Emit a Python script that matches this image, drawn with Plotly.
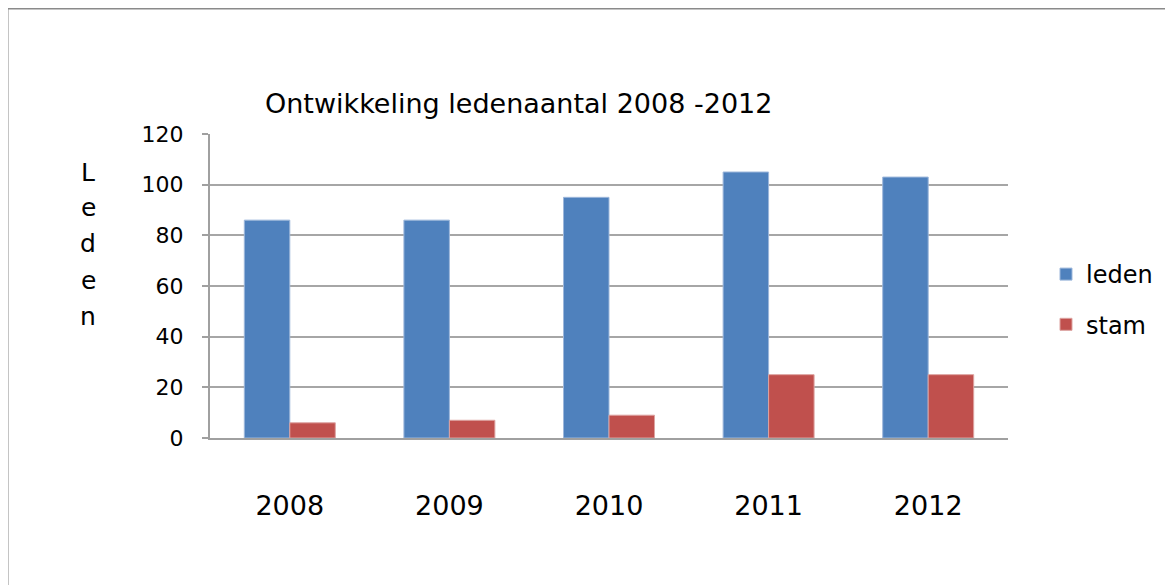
import plotly.graph_objects as go

years = ["2008", "2009", "2010", "2011", "2012"]
leden = [86, 86, 95, 105, 103]
stam = [6, 7, 9, 25, 25]
y_ticks = [0, 20, 40, 60, 80, 100, 120]
title_text = "Ontwikkeling ledenaantal 2008 -2012"
y_title_letters = ["L", "e", "d", "e", "n"]

FONT = "DejaVu Sans"

fig = go.Figure()
fig.add_trace(go.Bar(x=years, y=leden, name="leden", legendgroup="a",
                     marker=dict(color="#4F81BD", line=dict(color="#9DB7DB", width=1))))
fig.add_trace(go.Bar(x=years, y=stam, name="stam", legendgroup="b",
                     marker=dict(color="#C0504D", line=dict(color="#DDA3A1", width=1))))

W, H = 1173, 585
OFF = 8  # page body margin offset
# desired on-screen plot area: x 210..1008, y 134..438 (empirically corrected)
L, T = 210 - OFF, 134 - OFF
R = W - (1008 - OFF)
B = H - (438 - OFF)
pw, ph = W - L - R, H - T - B

def py(y):
    return ((H - B) - (y - OFF)) / ph

def px(x):
    return ((x - OFF) - L) / pw

annotations = [dict(text=title_text, x=px(518), y=py(103), xref="paper", yref="paper",
                    showarrow=False, xanchor="center", yanchor="middle",
                    font=dict(family=FONT, size=27, color="#000"))]
ys = [172, 207, 243, 280, 316]
for letter, yy in zip(y_title_letters, ys):
    annotations.append(dict(text=letter, x=px(88), y=py(yy), xref="paper", yref="paper",
                            showarrow=False, xanchor="center", yanchor="middle",
                            font=dict(family=FONT, size=25, color="#000")))

fig.update_layout(
    width=W, height=H,
    margin=dict(l=L, r=R, t=T, b=B, pad=0),
    paper_bgcolor="white", plot_bgcolor="white",
    barmode="group", bargap=0.43, bargroupgap=0,
    font=dict(family=FONT, color="#000"),
    showlegend=True,
    legend=dict(x=px(1046), y=py(252), xref="paper", yref="paper",
                xanchor="left", yanchor="top", tracegroupgap=16,
                font=dict(family=FONT, size=24, color="#000"),
                itemwidth=30, bgcolor="rgba(0,0,0,0)"),
    annotations=annotations,
    shapes=[dict(type="rect", xref="paper", yref="paper",
                 x0=px(7), x1=px(1200), y0=py(620), y1=py(8),
                 line=dict(color="#8A8A8A", width=3), fillcolor="rgba(0,0,0,0)", layer="below")],
)
fig.update_xaxes(showgrid=False, showline=True, linecolor="#A0A0A0", linewidth=2,
                 ticks="", tickfont=dict(family=FONT, size=27, color="#000"),
                 ticklabelstandoff=43)
fig.update_yaxes(range=[0, 120], tickvals=y_ticks, showgrid=True, gridcolor="#A6A6A6",
                 gridwidth=2, showline=True, linecolor="#A0A0A0", linewidth=2,
                 ticks="outside", ticklen=6, tickcolor="#A0A0A0", tickwidth=2,
                 tickfont=dict(family=FONT, size=22, color="#000"), ticklabelstandoff=14,
                 zeroline=False)

fig.write_html("out.html")
